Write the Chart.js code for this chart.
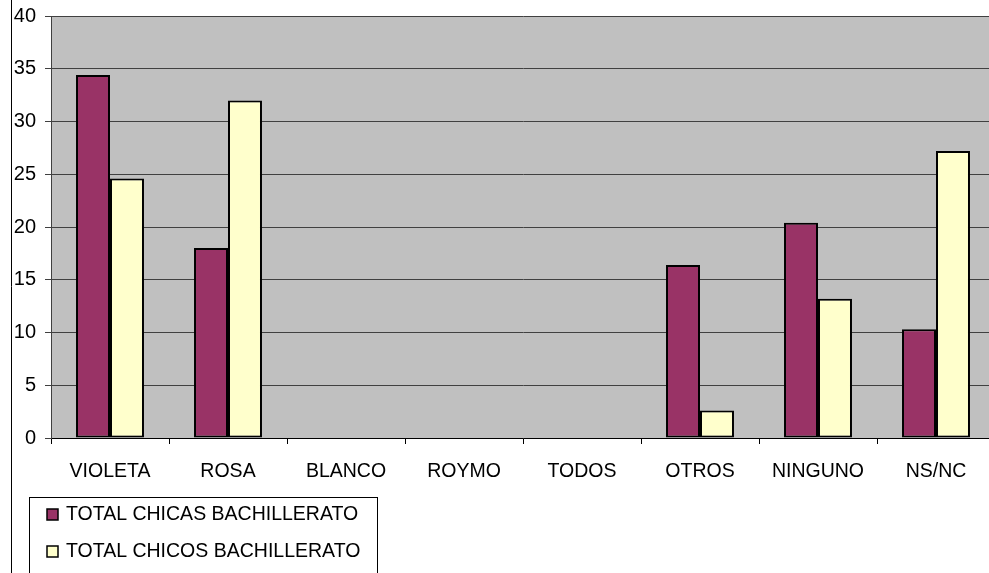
<!DOCTYPE html>
<html>
<head>
<meta charset="utf-8">
<script src="https://cdn.jsdelivr.net/npm/chart.js@4/dist/chart.umd.min.js"></script>
<style>
  html, body { margin: 0; padding: 0; background: #fff; overflow: hidden; }
  #wrap { width: 1000px; height: 573px; position: relative; }
</style>
</head>
<body>
<div id="wrap"><canvas id="chart"></canvas></div>
<script>
const categories = ['VIOLETA', 'ROSA', 'BLANCO', 'ROYMO', 'TODOS', 'OTROS', 'NINGUNO', 'NS/NC'];
const chicas = [34.4, 18.0, 0, 0, 0, 16.4, 20.4, 10.3];
const chicos = [24.6, 32.0, 0, 0, 0, 2.6, 13.2, 27.2];
const seriesNames = ['TOTAL CHICAS BACHILLERATO', 'TOTAL CHICOS BACHILLERATO'];
const yTicks = { min: 0, max: 40, step: 5 };

const FONT = 'Liberation Sans, Arial, sans-serif';

// gray plot area, left frame line
const backdrop = {
  id: 'backdrop',
  beforeDraw(chart) {
    const { ctx, chartArea: a } = chart;
    ctx.save();
    ctx.fillStyle = '#C0C0C0';
    ctx.fillRect(a.left, a.top, a.right - a.left, a.bottom - a.top);
    ctx.strokeStyle = '#000';
    ctx.lineWidth = 1;
    ctx.beginPath();
    ctx.moveTo(11.5, 0);
    ctx.lineTo(11.5, chart.height);
    ctx.stroke();
    ctx.restore();
  }
};

// boxed legend at bottom left
const boxLegend = {
  id: 'boxLegend',
  afterDraw(chart) {
    const { ctx } = chart;
    ctx.save();
    ctx.fillStyle = '#fff';
    ctx.fillRect(29.5, 497.5, 348, 100);
    ctx.strokeStyle = '#000';
    ctx.lineWidth = 1;
    ctx.strokeRect(29.5, 497.5, 348, 100);
    ctx.font = '19.5px ' + FONT;
    ctx.textBaseline = 'middle';
    chart.data.datasets.forEach((ds, i) => {
      const cy = 514 + i * 37;
      ctx.fillStyle = ds.backgroundColor;
      ctx.fillRect(47, cy - 5, 11, 11);
      ctx.strokeStyle = '#000';
      ctx.lineWidth = 1.5;
      ctx.strokeRect(47, cy - 5, 11, 11);
      ctx.fillStyle = '#000';
      ctx.fillText(ds.label, 66, cy + 1);
    });
    ctx.restore();
  }
};

new Chart(document.getElementById('chart'), {
  type: 'bar',
  data: {
    labels: categories,
    datasets: [
      { label: seriesNames[0], data: chicas, backgroundColor: '#993366', borderColor: '#000', borderWidth: 2, borderSkipped: false },
      { label: seriesNames[1], data: chicos, backgroundColor: '#FFFFCC', borderColor: '#000', borderWidth: 2, borderSkipped: false }
    ]
  },
  options: {
    responsive: true,
    maintainAspectRatio: false,
    animation: false,
    layout: { padding: { left: 0, top: 16, right: 5, bottom: 0 } },
    plugins: { legend: { display: false }, tooltip: { enabled: false } },
    datasets: { bar: { categoryPercentage: 0.576, barPercentage: 1 } },
    scales: {
      x: {
        afterFit(scale) { scale.height = 135; scale.paddingLeft = 0; scale.paddingRight = 0; },
        grid: { drawOnChartArea: false, drawTicks: true, tickLength: 6, color: '#000', offset: true },
        border: { color: '#000', width: 1 },
        ticks: { color: '#000', font: { family: FONT, size: 19.5 }, padding: 16, maxRotation: 0, autoSkip: false }
      },
      y: {
        min: yTicks.min,
        max: yTicks.max,
        afterFit(scale) { scale.width = 51; scale.paddingTop = 0; scale.paddingBottom = 0; },
        grid: { color: '#404040', tickLength: 6, drawTicks: true },
        border: { color: '#404040', width: 1 },
        ticks: { stepSize: yTicks.step, color: '#000', font: { family: FONT, size: 20 }, padding: 9 }
      }
    }
  },
  plugins: [backdrop, boxLegend]
});
</script>
</body>
</html>
